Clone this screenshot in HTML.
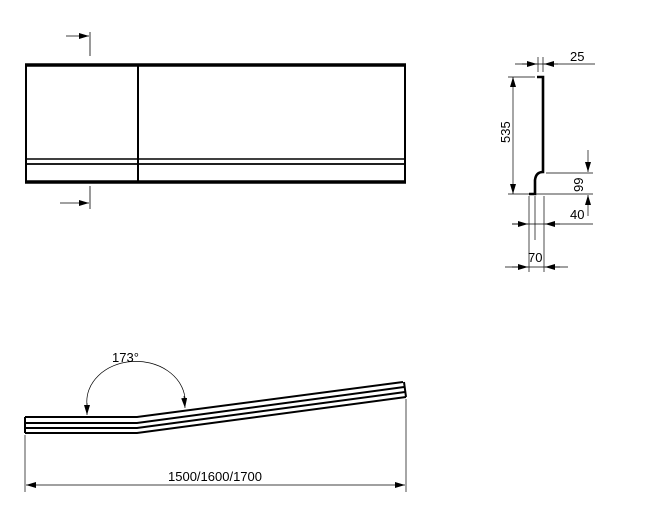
<!DOCTYPE html>
<html><head><meta charset="utf-8"><style>
html,body{margin:0;padding:0;background:#fff;}
svg{display:block;}
text{font-family:"Liberation Sans",sans-serif;fill:#000;}
</style></head><body>
<svg width="651" height="507" viewBox="0 0 651 507" xmlns="http://www.w3.org/2000/svg">
<defs>
<marker id="a" viewBox="0 0 10 6" refX="10" refY="3" markerWidth="10" markerHeight="6" orient="auto" markerUnits="userSpaceOnUse"><path d="M0,0 L10,3 L0,6 z" fill="#000"/></marker>
</defs>
<g stroke="#000" fill="none">
<rect x="26" y="65" width="379" height="117" stroke-width="2"/>
<line x1="25" y1="65" x2="406" y2="65" stroke-width="3.5"/>
<line x1="25" y1="182" x2="406" y2="182" stroke-width="3.5"/>
<line x1="138" y1="65" x2="138" y2="182" stroke-width="2"/>
<line x1="26" y1="159" x2="405" y2="159" stroke-width="1.5"/>
<line x1="26" y1="164" x2="405" y2="164" stroke-width="1.8"/>
<line x1="90" y1="32" x2="90" y2="56" stroke-width="0.8"/>
<line x1="66" y1="36" x2="89" y2="36" stroke-width="0.8" marker-end="url(#a)"/>
<line x1="90" y1="186" x2="90" y2="209" stroke-width="0.8"/>
<line x1="60" y1="203" x2="89" y2="203" stroke-width="0.8" marker-end="url(#a)"/>

<path d="M537,77 L543,77 L543,172 Q536,172 535,180 L535,194 L529,194" stroke-width="2.6" stroke-linejoin="miter"/>
<line x1="515" y1="64" x2="595" y2="64" stroke-width="0.7"/>
<line x1="538" y1="57" x2="538" y2="72" stroke-width="0.7"/>
<line x1="543" y1="57" x2="543" y2="72" stroke-width="0.7"/>
<line x1="522" y1="64" x2="537" y2="64" stroke-width="0.7" marker-end="url(#a)"/>
<line x1="558" y1="64" x2="544" y2="64" stroke-width="0.7" marker-end="url(#a)"/>
<line x1="508" y1="77" x2="535" y2="77" stroke-width="0.7"/>
<line x1="513" y1="87" x2="513" y2="77" stroke-width="0.7" marker-end="url(#a)"/>
<line x1="513" y1="87" x2="513" y2="194" stroke-width="0.7" marker-end="url(#a)"/>
<line x1="508" y1="194" x2="593" y2="194" stroke-width="0.7"/>
<line x1="546" y1="173" x2="593" y2="173" stroke-width="0.7"/>
<line x1="588" y1="150" x2="588" y2="172" stroke-width="0.7" marker-end="url(#a)"/>
<line x1="588" y1="216" x2="588" y2="195" stroke-width="0.7" marker-end="url(#a)"/>
<line x1="529" y1="196" x2="529" y2="272" stroke-width="0.7"/>
<line x1="535" y1="196" x2="535" y2="240" stroke-width="0.7"/>
<line x1="544" y1="196" x2="544" y2="272" stroke-width="0.7"/>
<line x1="512" y1="224" x2="593" y2="224" stroke-width="0.7"/>
<line x1="512" y1="224" x2="528" y2="224" stroke-width="0.7" marker-end="url(#a)"/>
<line x1="560" y1="224" x2="545" y2="224" stroke-width="0.7" marker-end="url(#a)"/>
<line x1="505" y1="267" x2="568" y2="267" stroke-width="0.7"/>
<line x1="512" y1="267" x2="528" y2="267" stroke-width="0.7" marker-end="url(#a)"/>
<line x1="560" y1="267" x2="545" y2="267" stroke-width="0.7" marker-end="url(#a)"/>

<path d="M25,417 L137,417 L403,382" stroke-width="2"/>
<path d="M25,423 L137,423 L404,387" stroke-width="2"/>
<path d="M25,428 L137,428 L405,392" stroke-width="2"/>
<path d="M25,433 L137,433 L406,397" stroke-width="2"/>
<line x1="25" y1="417" x2="25" y2="433" stroke-width="2"/>
<line x1="404" y1="382" x2="406" y2="397" stroke-width="2"/>
<line x1="25" y1="435" x2="25" y2="492" stroke-width="0.7"/>
<line x1="406" y1="399" x2="406" y2="492" stroke-width="0.7"/>
<line x1="36" y1="485" x2="26" y2="485" stroke-width="0.7" marker-end="url(#a)"/>
<line x1="36" y1="485" x2="395" y2="485" stroke-width="0.7"/>
<line x1="395" y1="485" x2="405" y2="485" stroke-width="0.7" marker-end="url(#a)"/>
<path d="M87,405 A49,40 0 0 1 185,398" stroke-width="0.7"/>
<line x1="87" y1="403" x2="87" y2="415" stroke-width="0.7" marker-end="url(#a)"/>
<line x1="184" y1="396" x2="185" y2="408" stroke-width="0.7" marker-end="url(#a)"/>
</g>
<text x="570" y="61" font-size="13">25</text>
<text x="0" y="0" font-size="13" transform="translate(510,143) rotate(-90)">535</text>
<text x="0" y="0" font-size="13" transform="translate(583,192) rotate(-90)">99</text>
<text x="570" y="219" font-size="13">40</text>
<text x="528" y="262" font-size="13">70</text>
<text x="112" y="362" font-size="13">173°</text>
<text x="168" y="481" font-size="13">1500/1600/1700</text>
</svg>
</body></html>
